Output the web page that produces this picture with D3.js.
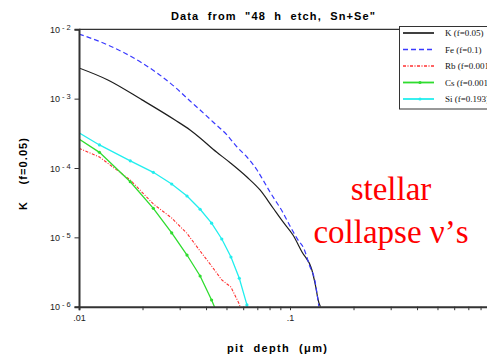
<!DOCTYPE html>
<html><head><meta charset="utf-8">
<script src="https://cdn.jsdelivr.net/npm/d3@7"></script>
<style>html,body{margin:0;padding:0;background:#fff;overflow:hidden}</style>
</head><body><svg id="c" width="487" height="362"></svg>
<script>
// ---- data ----
const kDepth = [0.01, 0.0137, 0.0199, 0.0285, 0.0336, 0.0375, 0.0432, 0.0519, 0.0625, 0.0721, 0.0831, 0.0927, 0.1033, 0.114, 0.127, 0.1313, 0.1372, 0.1395];
const kVal   = [2.77e-3, 1.86e-3, 9.6e-4, 4.92e-4, 3.53e-4, 2.71e-4, 1.86e-4, 1.2e-4, 7.41e-5, 4.82e-5, 2.65e-5, 1.67e-5, 1.08e-5, 6.15e-6, 3.38e-6, 2.2e-6, 1.13e-6, 1.0e-6];
const feDepth = [0.01, 0.0137, 0.0199, 0.0285, 0.0336, 0.0375, 0.0432, 0.0503, 0.0561, 0.0625, 0.0698, 0.0745, 0.0804, 0.0849, 0.0917, 0.1, 0.109, 0.116, 0.124, 0.131, 0.137];
const feVal   = [8.55e-3, 5.94e-3, 3.27e-3, 1.47e-3, 9.25e-4, 6.86e-4, 4.61e-4, 2.99e-4, 2.01e-4, 1.44e-4, 9.35e-5, 6.71e-5, 4.51e-5, 3.46e-5, 2.40e-5, 1.46e-5, 9.2e-6, 7.02e-6, 3.86e-6, 2.43e-6, 1.0e-6];
const gridDepth = [0.01, 0.0125, 0.0175, 0.0225, 0.0275, 0.0325, 0.0375, 0.0425, 0.0475, 0.0525, 0.0575, 0.0625, 0.0675];
const rbVal = [1.92e-4, 1.44e-4, 6.71e-5, 3.03e-5, 1.9e-5, 1.14e-5, 6.35e-6, 3.86e-6, 2.43e-6, 1.92e-6, 1.09e-6, 4.5e-7];
const csVal = [2.62e-4, 1.68e-4, 6.34e-5, 2.62e-5, 1.16e-5, 5.56e-6, 2.77e-6, 1.25e-6, 5.6e-7];
const siVal = [3.23e-4, 2.15e-4, 1.27e-4, 8.67e-5, 5.88e-5, 3.95e-5, 2.54e-5, 1.6e-5, 9.46e-6, 5.21e-6, 2.57e-6, 1.06e-6, 4.0e-7];
const legendLabels = ["K (f=0.05)", "Fe (f=0.1)", "Rb (f=0.001", "Cs (f=0.001", "Si (f=0.193)"];
const yTicks = [1e-2, 1e-3, 1e-4, 1e-5, 1e-6];
const yTickExp = ["-2", "-3", "-4", "-5", "-6"];
const xMinor = [0.01,0.02,0.03,0.04,0.05,0.06,0.07,0.08,0.09,0.1,0.2,0.3,0.4,0.5,0.6,0.7,0.8,0.9];
const xLabels = {"0.01": ".01", "0.1": ".1"};

const svg = d3.select("#c");
const L = 79, R = 501, T = 29.3, B = 306.7;
const x = d3.scaleLog().domain([0.01, 1]).range([L, R]);
const y = d3.scaleLog().domain([1e-6, 1e-2]).range([B, T]);
const sans = "'Liberation Sans', Arial, Helvetica, sans-serif";
const serif = "'Liberation Serif', 'Times New Roman', serif";

svg.append("defs").append("clipPath").attr("id","clip")
  .append("rect").attr("x", L).attr("y", T).attr("width", R - L).attr("height", B - T);

const series = [
  {name: legendLabels[0], xs: kDepth, ys: kVal, color: "#1e1e1e", dash: null, w: 1.2, marker: false, smooth: true},
  {name: legendLabels[1], xs: feDepth, ys: feVal, color: "#3a3aff", dash: "5,3", w: 1.2, marker: false, smooth: true},
  {name: legendLabels[2], xs: gridDepth, ys: rbVal, color: "#ff3030", dash: "3,1.5,1,1.5", w: 1.1, marker: false, smooth: false},
  {name: legendLabels[3], xs: gridDepth, ys: csVal, color: "#2fdc2f", dash: null, w: 1.3, marker: true, smooth: false},
  {name: legendLabels[4], xs: gridDepth, ys: siVal, color: "#22eeee", dash: null, w: 1.3, marker: true, smooth: false}
];

const plot = svg.append("g").attr("clip-path", "url(#clip)");
series.forEach(s => {
  const pts = s.ys.map((v, i) => [s.xs[i], v]);
  const line = d3.line().x(d => x(d[0])).y(d => y(d[1]))
    .curve(s.smooth ? d3.curveMonotoneX : d3.curveLinear);
  plot.append("path").datum(pts).attr("d", line).attr("fill", "none")
    .attr("stroke", s.color).attr("stroke-width", s.w)
    .attr("stroke-dasharray", s.dash);
  if (s.marker) {
    plot.selectAll(null).data(pts.slice(1)).enter().append("circle")
      .attr("cx", d => x(d[0])).attr("cy", d => y(d[1])).attr("r", 1.6)
      .attr("fill", s.color);
  }
});

// frame
svg.append("line").attr("x1", L).attr("x2", R).attr("y1", T).attr("y2", T)
  .attr("stroke", "#333").attr("stroke-width", 1.3);

// x axis
const xa = svg.append("g").attr("transform", `translate(0,${B})`)
  .call(d3.axisBottom(x).tickValues(xMinor).tickSize(3.5)
    .tickFormat(d => xLabels[String(+d.toPrecision(3))] || ""));
xa.select(".domain").attr("stroke", "#333").attr("stroke-width", 2);
xa.selectAll(".tick line").attr("stroke", "#333").attr("stroke-width", 1);
xa.selectAll(".tick text").attr("font-family", sans).attr("font-size", 9).attr("fill", "#222").attr("dy", "0.9em");

// y axis
const ya = svg.append("g").attr("transform", `translate(${L},0)`)
  .call(d3.axisLeft(y).tickValues(yTicks).tickSize(4.5).tickFormat(""));
ya.select(".domain").attr("stroke", "#333").attr("stroke-width", 2);
ya.selectAll(".tick line").attr("stroke", "#333").attr("stroke-width", 1);
yTicks.forEach((t, i) => {
  const tx = svg.append("text").attr("x", 50).attr("y", y(t) + 3.5)
    .attr("font-family", sans).attr("font-size", 9).attr("fill", "#222");
  tx.append("tspan").text("10");
  tx.append("tspan").attr("dx", 2).attr("dy", -3).attr("font-size", 7.5).attr("xml:space","preserve")
    .text(yTickExp[i].replace("-", "- "));
});

// titles
svg.append("text").attr("x", 273).attr("y", 20).attr("text-anchor", "middle")
  .attr("font-family", sans).attr("font-weight", "bold").attr("font-size", 11)
  .style("white-space", "pre").attr("textLength", 204)
  .text("Data  from  \"48  h  etch,  Sn+Se\"");
svg.append("text").attr("x", 277).attr("y", 352).attr("text-anchor", "middle")
  .attr("font-family", sans).attr("font-weight", "bold").attr("font-size", 11)
  .style("white-space", "pre").attr("textLength", 100)
  .text("pit  depth  (\u03bcm)");
svg.append("text").attr("transform", "translate(27,174) rotate(-90)").attr("text-anchor", "middle")
  .attr("font-family", sans).attr("font-weight", "bold").attr("font-size", 11)
  .style("white-space", "pre").attr("textLength", 72)
  .text("K    (f=0.05)");

// legend
const lg = svg.append("g");
lg.append("rect").attr("x", 399.5).attr("y", 26.5).attr("width", 110).attr("height", 82.5)
  .attr("fill", "#fff").attr("stroke", "#333").attr("stroke-width", 1);
const ly = d3.scalePoint().domain(legendLabels).range([33, 99]);
series.forEach(s => {
  const yy = ly(s.name);
  lg.append("line").attr("x1", 403).attr("x2", 434).attr("y1", yy).attr("y2", yy)
    .attr("stroke", s.color).attr("stroke-width", s.w + 0.5).attr("stroke-dasharray", s.dash);
  if (s.marker) lg.append("circle").attr("cx", 420).attr("cy", yy).attr("r", 1.6).attr("fill", s.color);
  lg.append("text").attr("x", 445).attr("y", yy + 3).attr("font-family", serif)
    .attr("font-size", 9).attr("fill", "#111").text(s.name);
});

// annotation
svg.append("text").attr("x", 391).attr("y", 200).attr("text-anchor", "middle")
  .attr("font-family", serif).attr("font-size", 33).attr("fill", "#ff0000").text("stellar");
svg.append("text").attr("x", 391).attr("y", 243).attr("text-anchor", "middle")
  .attr("font-family", serif).attr("font-size", 33).attr("fill", "#ff0000").text("collapse \u03bd\u2019s");
</script></body></html>
